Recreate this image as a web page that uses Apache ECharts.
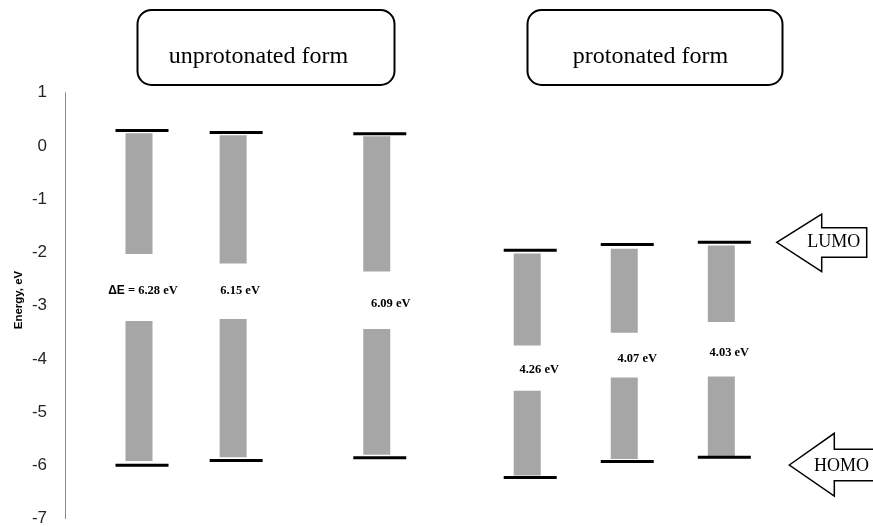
<!DOCTYPE html>
<html>
<head>
<meta charset="utf-8">
<script src="https://cdn.jsdelivr.net/npm/echarts@6/dist/echarts.min.js"></script>
<style>
html,body{margin:0;padding:0;background:#fff;}
#chart{width:873px;height:527px;}
</style>
</head>
<body>
<div id="chart"></div>
<script>
// ---- data ----
const columns = ['unprotonated 1', 'unprotonated 2', 'unprotonated 3', 'protonated 1', 'protonated 2', 'protonated 3'];
const xPos = [1, 1.97, 3.45, 5, 6, 7];
const lumo = [0.29, 0.25, 0.23, -1.96, -1.85, -1.81];
const homo = [-6.00, -5.91, -5.86, -6.23, -5.93, -5.85];
const upperBarTop = [0.24, 0.20, 0.18, -2.02, -1.93, -1.87];
const upperBarBottom = [-2.03, -2.21, -2.36, -3.75, -3.51, -3.31];
const lowerBarTop = [-3.29, -3.25, -3.44, -4.60, -4.35, -4.33];
const lowerBarBottom = [-5.92, -5.85, -5.80, -6.19, -5.88, -5.83];
const gaps = [6.28, 6.15, 6.09, 4.26, 4.07, 4.03];
const yTicks = [1, 0, -1, -2, -3, -4, -5, -6, -7];

// ---- layout / style ----
const labelPlace = [[4, -2.72], [7, -2.72], [14, -2.97], [12, -4.20], [13, -4.00], [8, -3.88]];
const BAR_W = 27, LINE_W = 53, LINE_OFF = 3, LINE_T = 3;

const seriesData = columns.map((c, i) => [xPos[i], lumo[i], homo[i], upperBarTop[i], upperBarBottom[i], lowerBarTop[i], lowerBarBottom[i], gaps[i], labelPlace[i][1], i]);

function renderItem(params, api) {
  const x = api.value(0);
  const i = api.value(9);
  const pL = api.coord([x, api.value(1)]);
  const pH = api.coord([x, api.value(2)]);
  const uT = api.coord([x, api.value(3)]);
  const uB = api.coord([x, api.value(4)]);
  const lT = api.coord([x, api.value(5)]);
  const lB = api.coord([x, api.value(6)]);
  const pLab = api.coord([x, api.value(8)]);
  const cx = pL[0];
  const g = api.value(7).toFixed(2) + ' eV';
  const text = i === 0 ? '{s|ΔE}{t| = ' + g + '}' : '{t|' + g + '}';
  return {
    type: 'group',
    children: [
      { type: 'rect', shape: { x: cx - BAR_W / 2, y: uT[1], width: BAR_W, height: uB[1] - uT[1] }, style: { fill: '#a6a6a6' } },
      { type: 'rect', shape: { x: cx - BAR_W / 2, y: lT[1], width: BAR_W, height: lB[1] - lT[1] }, style: { fill: '#a6a6a6' } },
      { type: 'rect', shape: { x: cx - LINE_W / 2 + LINE_OFF, y: pL[1] - LINE_T / 2, width: LINE_W, height: LINE_T }, style: { fill: '#000' } },
      { type: 'rect', shape: { x: cx - LINE_W / 2 + LINE_OFF, y: pH[1] - LINE_T / 2, width: LINE_W, height: LINE_T }, style: { fill: '#000' } },
      { type: 'text', x: cx + labelPlace[i][0], y: pLab[1],
        style: { text: text, align: 'center', verticalAlign: 'middle',
          rich: {
            s: { fontFamily: 'Liberation Sans', fontWeight: 'bold', fontSize: 12, fill: '#000' },
            t: { fontFamily: 'Liberation Serif', fontWeight: 'bold', fontSize: 12.5, fill: '#000' }
          } } }
    ]
  };
}

const chart = echarts.init(document.getElementById('chart'), null, { renderer: 'canvas' });
chart.setOption({
  animation: false,
  backgroundColor: '#fff',
  grid: { left: 65, right: 0, top: 92.7, height: 428, containLabel: false },
  xAxis: { type: 'value', min: 0.2375, max: 8.563, show: false },
  yAxis: {
    type: 'value', min: yTicks[yTicks.length - 1], max: yTicks[0], interval: 1,
    axisLine: { show: true, lineStyle: { color: '#8c8c8c', width: 1 } },
    axisTick: { show: false },
    splitLine: { show: false },
    axisLabel: { fontFamily: 'Liberation Sans', fontSize: 17, color: '#262626', margin: 18 }
  },
  series: [{ type: 'custom', renderItem: renderItem, data: seriesData, clip: false }],
  graphic: [
    { type: 'text', x: 18.5, y: 300, rotation: Math.PI / 2, style: { text: 'Energy, eV', font: 'bold 11.5px "Liberation Sans"', fill: '#000', align: 'center', verticalAlign: 'middle' } },
    { type: 'rect', shape: { x: 137.5, y: 10, width: 257, height: 75, r: 14 }, style: { fill: '#fff', stroke: '#000', lineWidth: 2 } },
    { type: 'text', x: 258.5, y: 57, style: { text: 'unprotonated form', font: '24px "Liberation Serif"', fill: '#000', align: 'center', verticalAlign: 'middle' } },
    { type: 'rect', shape: { x: 527.5, y: 10, width: 255, height: 75, r: 14 }, style: { fill: '#fff', stroke: '#000', lineWidth: 2 } },
    { type: 'text', x: 650.5, y: 57, style: { text: 'protonated form', font: '24px "Liberation Serif"', fill: '#000', align: 'center', verticalAlign: 'middle' } },
    { type: 'polygon', shape: { points: [[776.7, 242.3], [821.7, 214], [821.7, 227.7], [866.7, 227.7], [866.7, 257.3], [821.7, 257.3], [821.7, 271.7]] }, style: { fill: '#fff', stroke: '#000', lineWidth: 1.5 } },
    { type: 'text', x: 833.7, y: 242.5, style: { text: 'LUMO', font: '18px "Liberation Serif"', fill: '#000', align: 'center', verticalAlign: 'middle' } },
    { type: 'polygon', shape: { points: [[789.3, 465], [834.3, 433.3], [834.3, 449.3], [880, 449.3], [880, 480.7], [834.3, 480.7], [834.3, 496]] }, style: { fill: '#fff', stroke: '#000', lineWidth: 1.5 } },
    { type: 'text', x: 841.5, y: 466, style: { text: 'HOMO', font: '18px "Liberation Serif"', fill: '#000', align: 'center', verticalAlign: 'middle' } }
  ]
});
</script>
</body>
</html>
